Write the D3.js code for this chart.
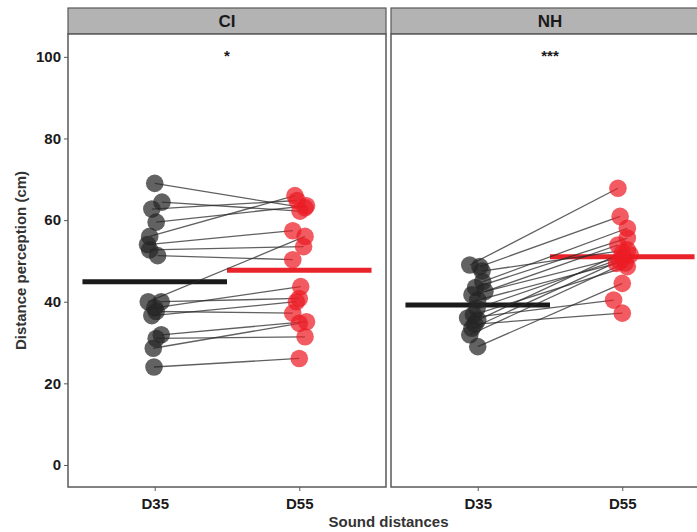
<!DOCTYPE html>
<html>
<head>
<meta charset="utf-8">
<script src="https://cdn.jsdelivr.net/npm/d3@7"></script>
<style>
  body { margin: 0; background: #fff; }
  text { font-family: "Liberation Sans", Arial, sans-serif; font-weight: bold; }
</style>
</head>
<body>
<div id="chart"></div>
<script>
// groups / categories
const groups = ['CI', 'NH'];
const conditions = ['D35', 'D55'];
const signif = ['*', '***'];

// paired values per subject (cm)
const ciD35 = [69.0, 64.4, 62.7, 59.5, 56.0, 54.0, 52.7, 51.3, 40.0, 40.0, 38.5, 37.6, 36.6, 31.9, 31.0, 28.6, 24.0];
const ciD55 = [63.0, 62.2, 64.8, 63.5, 66.0, 57.4, 53.5, 50.3, 56.0, 40.8, 43.7, 37.2, 40.0, 35.1, 31.4, 34.7, 26.1];
const nhD35 = [49.0, 48.6, 47.5, 44.9, 43.5, 42.5, 41.7, 40.4, 38.4, 36.8, 36.0, 35.5, 34.5, 33.5, 31.9, 29.0];
const nhD55 = [67.8, 60.9, 52.7, 58.0, 55.6, 53.9, 51.5, 49.4, 50.7, 48.6, 40.4, 52.0, 37.2, 50.0, 49.5, 44.5];

// jittered x offsets (in category units), as placed in the plot
const ciJit35 = [0, 0.05, -0.02, 0.01, -0.035, -0.05, -0.035, 0.02, -0.045, 0.045, 0, 0.01, -0.02, 0.045, 0.01, -0.01, -0.005];
const ciJit55 = [0.04, 0.005, -0.015, 0.05, -0.03, -0.045, 0.03, -0.045, 0.04, 0, 0.01, -0.045, -0.02, 0.05, 0.04, 0, 0];
const nhJit35 = [-0.055, 0.015, 0.03, 0.035, -0.015, 0.05, -0.04, 0, -0.005, -0.03, -0.07, 0, -0.02, -0.04, -0.055, 0];
const nhJit55 = [-0.03, -0.015, 0.035, 0.035, 0.035, -0.03, 0.055, -0.04, 0.005, 0.035, -0.06, 0, 0, -0.02, 0.02, 0];

// group means as shown by the horizontal bars
const ciMeans = [44.9, 47.7];
const nhMeans = [39.2, 51.0];

const yTicks = [0, 20, 40, 60, 80, 100];

const panels = [
  { name: groups[0], d35: ciD35, d55: ciD55, j35: ciJit35, j55: ciJit55, means: ciMeans, sig: signif[0] },
  { name: groups[1], d35: nhD35, d55: nhD55, j35: nhJit35, j55: nhJit55, means: nhMeans, sig: signif[1] },
];

const W = 697, H = 532;
const panelW = 318, gap = 5;
const plotLeft = 68, plotTop = 34, plotBottom = 487;
const stripH = 26;
const colors = ['#262626', '#ec1c24'];

const svg = d3.select('#chart').append('svg')
  .attr('width', W)
  .attr('height', H);

const yScale = d3.scaleLinear()
  .domain([-5.4, 105.6])
  .range([plotBottom, plotTop]);

// 1-based positions for the two conditions, ggplot-like expansion
const xScale = d3.scaleLinear()
  .domain([0.4, 2.6])
  .range([0, panelW]);

panels.forEach((p, pi) => {
  const x0 = plotLeft + pi * (panelW + gap);
  const g = svg.append('g')
    .attr('transform', `translate(${x0},0)`);

  // strip
  g.append('rect')
    .attr('x', 0).attr('y', plotTop - stripH)
    .attr('width', panelW).attr('height', stripH)
    .attr('fill', '#b3b3b3')
    .attr('stroke', '#595959')
    .attr('stroke-width', 1.2);
  g.append('text')
    .attr('x', panelW / 2)
    .attr('y', plotTop - stripH / 2 + 6)
    .attr('text-anchor', 'middle')
    .attr('font-size', 17)
    .attr('fill', '#1a1a1a')
    .text(p.name);

  // panel background
  g.append('rect')
    .attr('x', 0).attr('y', plotTop)
    .attr('width', panelW).attr('height', plotBottom - plotTop)
    .attr('fill', '#fff');

  // x axis
  const xAxis = d3.axisBottom(xScale)
    .tickValues([1, 2])
    .tickFormat((d, i) => conditions[i])
    .tickSize(4)
    .tickSizeOuter(0);
  const ax = g.append('g')
    .attr('transform', `translate(0,${plotBottom})`)
    .call(xAxis);
  ax.select('.domain').remove();
  ax.selectAll('line').attr('stroke', '#595959');
  ax.selectAll('text')
    .attr('font-size', 15)
    .attr('fill', '#1a1a1a')
    .attr('dy', '1.0em');

  const pts = p.d35.map((v, i) => ({
    a: { x: xScale(1 + p.j35[i]), y: yScale(v) },
    b: { x: xScale(2 + p.j55[i]), y: yScale(p.d55[i]) },
  }));

  // mean bars
  p.means.forEach((m, k) => {
    g.append('line')
      .attr('x1', xScale(k + 1 - 0.5))
      .attr('x2', xScale(k + 1 + 0.5))
      .attr('y1', yScale(m))
      .attr('y2', yScale(m))
      .attr('stroke', k === 0 ? '#1a1a1a' : '#e8232a')
      .attr('stroke-width', 5);
  });

  // connecting lines
  g.selectAll('.pair')
    .data(pts)
    .enter().append('line')
    .attr('class', 'pair')
    .attr('x1', d => d.a.x).attr('y1', d => d.a.y)
    .attr('x2', d => d.b.x).attr('y2', d => d.b.y)
    .attr('stroke', '#2b2b2b')
    .attr('stroke-opacity', 0.75)
    .attr('stroke-width', 1.3);

  // points
  [['a', colors[0]], ['b', colors[1]]].forEach(([key, col]) => {
    g.selectAll(`.pt-${key}`)
      .data(pts)
      .enter().append('circle')
      .attr('class', `pt-${key}`)
      .attr('cx', d => d[key].x)
      .attr('cy', d => d[key].y)
      .attr('r', 8.8)
      .attr('fill', col)
      .attr('fill-opacity', 0.72);
  });

  // significance
  g.append('text')
    .attr('x', panelW / 2)
    .attr('y', yScale(100) + 4)
    .attr('text-anchor', 'middle')
    .attr('font-size', 15)
    .attr('font-weight', 'normal')
    .attr('fill', '#1a1a1a')
    .text(p.sig);

  // panel border
  g.append('rect')
    .attr('x', 0).attr('y', plotTop)
    .attr('width', panelW).attr('height', plotBottom - plotTop)
    .attr('fill', 'none')
    .attr('stroke', '#595959')
    .attr('stroke-width', 1.5);
});

// y axis
const yAxis = d3.axisLeft(yScale)
  .tickValues(yTicks)
  .tickSize(4)
  .tickSizeOuter(0);
const ay = svg.append('g')
  .attr('transform', `translate(${plotLeft},0)`)
  .call(yAxis);
ay.select('.domain').remove();
ay.selectAll('line').attr('stroke', '#595959');
ay.selectAll('text')
  .attr('font-size', 15)
  .attr('fill', '#1a1a1a');

// axis titles
svg.append('text')
  .attr('x', plotLeft + (2 * panelW + gap) / 2)
  .attr('y', 527)
  .attr('text-anchor', 'middle')
  .attr('font-size', 15)
  .attr('fill', '#333')
  .text('Sound distances');

svg.append('text')
  .attr('transform', `translate(26,${(plotTop + plotBottom) / 2}) rotate(-90)`)
  .attr('text-anchor', 'middle')
  .attr('font-size', 15)
  .attr('fill', '#333')
  .text('Distance perception (cm)');
</script>
</body>
</html>
